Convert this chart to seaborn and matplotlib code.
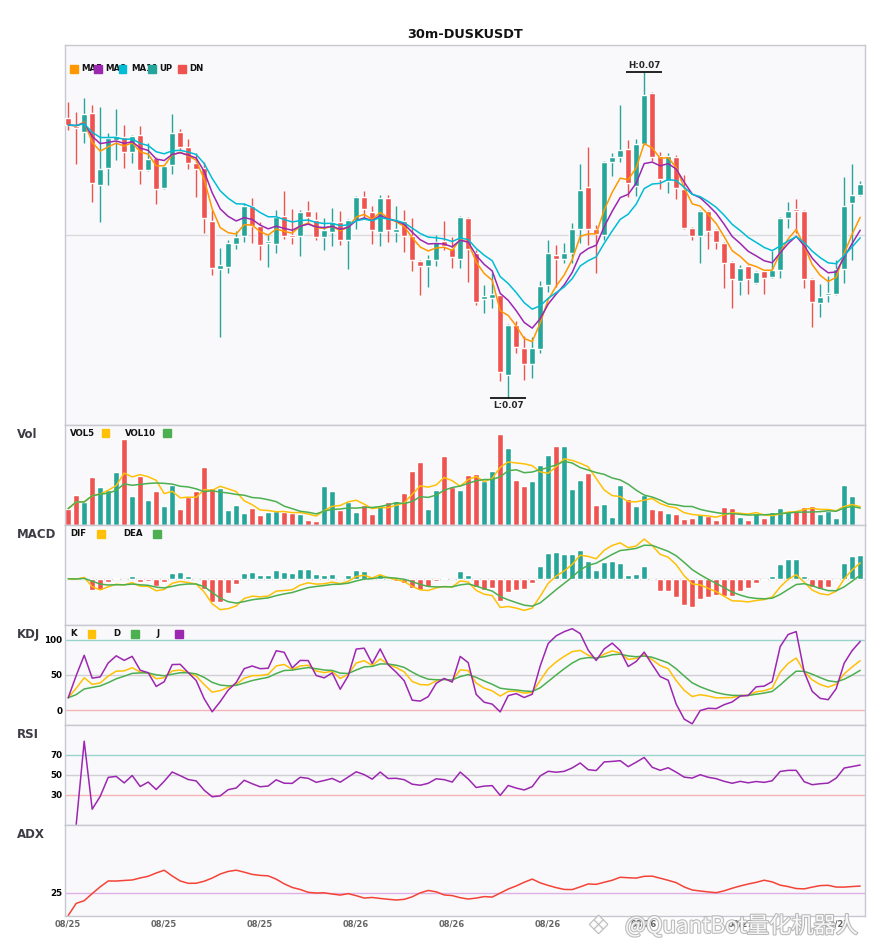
import numpy as np
import pandas as pd
import matplotlib
matplotlib.use("Agg")
import matplotlib.pyplot as plt
import matplotlib.patheffects as pe
from matplotlib.patches import Rectangle
from matplotlib.transforms import Bbox, TransformedBbox
import seaborn as sns

# 30m candles, prices in units of 1e-5 USDT
opens = [7280, 7272, 7266, 7285, 7213, 7230, 7258, 7261, 7246, 7263,
         7228, 7240, 7210, 7233, 7266, 7251, 7235, 7230, 7177, 7129,
         7131, 7154, 7162, 7192, 7172, 7155, 7154, 7182, 7162, 7162,
         7187, 7178, 7161, 7166, 7176, 7158, 7178, 7201, 7186, 7166,
         7200, 7166, 7177, 7162, 7137, 7132, 7138, 7157, 7150, 7139,
         7180, 7145, 7099, 7100, 7103, 7023, 7073, 7050, 7034, 7049,
         7113, 7143, 7139, 7145, 7169, 7211, 7169, 7163, 7236, 7241,
         7249, 7212, 7254, 7305, 7242, 7217, 7241, 7209, 7170, 7162,
         7187, 7168, 7155, 7136, 7117, 7132, 7115, 7127, 7121, 7128,
         7180, 7188, 7187, 7119, 7095, 7103, 7104, 7129, 7195, 7203]
highs = [7296, 7286, 7300, 7293, 7291, 7265, 7289, 7273, 7263, 7272,
         7255, 7241, 7233, 7284, 7269, 7259, 7245, 7236, 7188, 7150,
         7158, 7167, 7195, 7200, 7176, 7163, 7188, 7207, 7189, 7188,
         7197, 7186, 7180, 7190, 7187, 7179, 7202, 7207, 7192, 7203,
         7203, 7192, 7188, 7180, 7138, 7143, 7163, 7177, 7161, 7182,
         7181, 7148, 7113, 7125, 7104, 7074, 7077, 7062, 7061, 7117,
         7158, 7153, 7155, 7175, 7234, 7251, 7173, 7237, 7245, 7293,
         7258, 7259, 7326, 7306, 7246, 7245, 7243, 7223, 7171, 7188,
         7188, 7169, 7156, 7137, 7133, 7133, 7127, 7128, 7147, 7181,
         7196, 7199, 7188, 7120, 7114, 7122, 7138, 7221, 7234, 7217]
lows = [7268, 7234, 7255, 7196, 7176, 7213, 7238, 7230, 7235, 7214,
        7227, 7194, 7209, 7224, 7248, 7229, 7201, 7165, 7123, 7061,
        7125, 7149, 7156, 7155, 7138, 7131, 7145, 7159, 7154, 7142,
        7176, 7158, 7148, 7152, 7153, 7129, 7169, 7180, 7154, 7152,
        7156, 7156, 7146, 7127, 7103, 7111, 7132, 7148, 7130, 7130,
        7116, 7093, 7085, 7090, 7017, 7000, 7045, 7018, 7020, 7045,
        7106, 7111, 7135, 7135, 7155, 7153, 7125, 7158, 7222, 7236,
        7201, 7202, 7253, 7237, 7209, 7205, 7199, 7169, 7158, 7135,
        7149, 7149, 7110, 7090, 7103, 7104, 7114, 7104, 7120, 7120,
        7170, 7165, 7110, 7071, 7081, 7096, 7103, 7115, 7138, 7202]
closes = [7273, 7270, 7284, 7215, 7229, 7260, 7262, 7246, 7262, 7228,
          7239, 7209, 7232, 7265, 7251, 7235, 7229, 7180, 7130, 7133,
          7155, 7161, 7192, 7172, 7153, 7156, 7181, 7162, 7161, 7186,
          7181, 7161, 7168, 7176, 7158, 7178, 7201, 7189, 7168, 7200,
          7168, 7169, 7162, 7138, 7132, 7139, 7156, 7152, 7141, 7181,
          7149, 7096, 7102, 7104, 7026, 7073, 7051, 7034, 7050, 7112,
          7145, 7139, 7145, 7169, 7208, 7169, 7164, 7236, 7241, 7248,
          7215, 7254, 7303, 7241, 7219, 7242, 7210, 7170, 7162, 7187,
          7167, 7156, 7135, 7119, 7130, 7119, 7126, 7120, 7128, 7180,
          7187, 7187, 7119, 7096, 7101, 7104, 7129, 7192, 7203, 7214]
# volume in thousands
volumes = [48, 88, 68, 142, 112, 105, 157, 255, 85, 145,
           75, 102, 57, 120, 48, 84, 100, 172, 109, 109,
           45, 60, 34, 51, 30, 37, 42, 37, 35, 31,
           15, 12, 117, 100, 43, 69, 37, 58, 33, 60,
           67, 72, 94, 160, 187, 48, 105, 205, 112, 105,
           147, 150, 130, 159, 270, 228, 135, 117, 132, 177,
           207, 234, 234, 108, 135, 153, 60, 63, 24, 120,
           78, 57, 88, 48, 45, 36, 33, 18, 21, 33,
           26, 15, 54, 51, 24, 15, 36, 21, 39, 51,
           42, 42, 54, 57, 33, 42, 21, 120, 85, 1]
start_time = "2023-08-25 06:00"
symbol = "DUSKUSDT"
interval = "30m"
ma_spans = [5, 8, 13]
macd_fast, macd_slow, macd_signal = 6, 13, 5

UP, DN = "#26A69A", "#EF5350"
C_MA = ["#FF9800", "#9C27B0", "#00BCD4"]
YEL, GRN, PUR = "#FFC107", "#4CAF50", "#9C27B0"

o = pd.Series(opens) / 1e5
h = pd.Series(highs) / 1e5
l = pd.Series(lows) / 1e5
c = pd.Series(closes) / 1e5
v = pd.Series(volumes) * 1000.0
n = len(c)
idx = np.arange(n)
times = pd.date_range(start_time, periods=n, freq="30min")

# indicators
mas = [c.ewm(span=s, adjust=False).mean() for s in ma_spans]
vol5 = v.rolling(5, min_periods=1).mean()
vol10 = v.rolling(10, min_periods=1).mean()

dif = c.ewm(span=macd_fast, adjust=False).mean() - c.ewm(span=macd_slow, adjust=False).mean()
dea = dif.ewm(span=macd_signal, adjust=False).mean()
hist = 2 * (dif - dea)

low9 = l.rolling(9, min_periods=1).min()
high9 = h.rolling(9, min_periods=1).max()
rsv = (c - low9) / (high9 - low9) * 100
k = rsv.ewm(com=2, adjust=False).mean()
d = k.ewm(com=2, adjust=False).mean()
j = 3 * k - 2 * d

delta = c.diff()
gain = delta.clip(lower=0).ewm(com=13).mean()
loss = (-delta).clip(lower=0).ewm(com=13).mean()
rsi = 100 * gain / (gain + loss)

pc = c.shift(1)
tr = pd.concat([h - l, (h - pc).abs(), (l - pc).abs()], axis=1).max(axis=1)
upm = h.diff()
dnm = -l.diff()
pdm = pd.Series(np.where((upm > dnm) & (upm > 0), upm, 0.0))
ndm = pd.Series(np.where((dnm > upm) & (dnm > 0), dnm, 0.0))
atr = tr.ewm(span=14, adjust=False).mean()
pdi = 100 * pdm.ewm(span=14, adjust=False).mean() / atr
ndi = 100 * ndm.ewm(span=14, adjust=False).mean() / atr
dx = (100 * (pdi - ndi).abs() / (pdi + ndi)).fillna(0)
adx = dx.ewm(span=14, adjust=False).mean()

sns.set_theme(style="white")
plt.rcParams.update({
    "font.family": ["DejaVu Sans"],
    "axes.facecolor": "#F9F9FB",
    "axes.edgecolor": "#C8C8D2",
    "axes.linewidth": 1.0,
})

fig = plt.figure(figsize=(8.85, 9.5), dpi=100)
gs = fig.add_gridspec(6, 1, height_ratios=[380, 100, 100, 100, 100, 91],
                      left=65 / 885, right=865 / 885, top=1 - 45 / 950,
                      bottom=1 - 915.5 / 950, hspace=0)
ax0 = fig.add_subplot(gs[0])
axes = [ax0] + [fig.add_subplot(gs[i], sharex=ax0) for i in range(1, 6)]
ax_p, ax_v, ax_m, ax_k, ax_r, ax_a = axes
heights_px = [380, 100, 100, 100, 100, 91]

colors = np.where(c >= o, UP, DN)

# price panel
ax_p.vlines(idx, l, h, colors=colors, lw=1.0, zorder=2)
body = np.maximum((c - o).abs(), 1.5e-5)
ax_p.bar(idx, body, bottom=np.minimum(o, c), width=0.75, color=colors, zorder=3)
for ma, col in zip(mas, C_MA):
    sns.lineplot(x=idx, y=ma, ax=ax_p, color=col, lw=1.1, zorder=4)
lo, hi = l.min(), h.max()
pad = (hi - lo) * 0.083
ax_p.set_ylim(lo - pad, hi + pad)
ax_p.axhline((lo + hi) / 2, color="#DADADF", lw=1.0, zorder=1)

ih, il = int(h.idxmax()), int(l.idxmin())
ax_p.hlines(h[ih], ih - 2.25, ih + 2.25, color="black", lw=1.2, zorder=5)
ax_p.annotate(f"H:{h[ih]:.2f}", (ih, h[ih]), xytext=(0, 1.5), textcoords="offset points",
              ha="center", va="bottom", fontsize=6.3, fontweight="bold")
ax_p.hlines(l[il], il - 2.25, il + 2.25, color="black", lw=1.2, zorder=5)
ax_p.annotate(f"L:{l[il]:.2f}", (il, l[il]), xytext=(0, -2), textcoords="offset points",
              ha="center", va="top", fontsize=6.3, fontweight="bold")

# volume panel
ax_v.bar(idx, v, width=0.68, color=colors, zorder=2)
sns.lineplot(x=idx, y=vol5, ax=ax_v, color=YEL, lw=1.1, zorder=3)
sns.lineplot(x=idx, y=vol10, ax=ax_v, color=GRN, lw=1.1, zorder=3)
ax_v.set_ylim(0, v.max() * 1.105)

# macd panel
ax_m.axhline(0, color="#CFCFD4", lw=1.0, zorder=1)
ax_m.bar(idx, hist, width=0.68, color=np.where(hist >= 0, UP, DN), zorder=2)
sns.lineplot(x=idx, y=dif, ax=ax_m, color=YEL, lw=1.1, zorder=3)
sns.lineplot(x=idx, y=dea, ax=ax_m, color=GRN, lw=1.1, zorder=3)
mlo = min(dif.min(), dea.min(), hist.min())
mhi = max(dif.max(), dea.max(), hist.max())
ax_m.set_ylim(mlo - 0.2 * (mhi - mlo), mhi + 0.2 * (mhi - mlo))

# kdj panel
ax_k.axhline(100, color="#9AD3CB", lw=1.0, zorder=1)
ax_k.axhline(50, color="#CFCFD4", lw=1.0, zorder=1)
ax_k.axhline(0, color="#F6B5B5", lw=1.0, zorder=1)
sns.lineplot(x=idx, y=k, ax=ax_k, color=YEL, lw=1.1)
sns.lineplot(x=idx, y=d, ax=ax_k, color=GRN, lw=1.1)
sns.lineplot(x=idx, y=j, ax=ax_k, color=PUR, lw=1.1)
ax_k.set_ylim(-20, 121)
ax_k.set_yticks([0, 50, 100])

# rsi panel
ax_r.axhline(70, color="#9AD3CB", lw=1.0, zorder=1)
ax_r.axhline(50, color="#CFCFD4", lw=1.0, zorder=1)
ax_r.axhline(30, color="#F6B5B5", lw=1.0, zorder=1)
sns.lineplot(x=idx, y=rsi, ax=ax_r, color=PUR, lw=1.1)
ax_r.set_ylim(0, 100)
ax_r.set_yticks([30, 50, 70])

# adx panel
ax_a.axhline(25, color="#DDB0E6", lw=1.0, zorder=1)
sns.lineplot(x=idx, y=adx, ax=ax_a, color="#F44336", lw=1.1)
ax_a.set_ylim(0, 100)
ax_a.set_yticks([25])

for ax in axes:
    ax.set_xlim(-0.4, 99.6)
    ax.set_xlabel("")
    ax.set_ylabel("")
    ax.tick_params(length=0, pad=2)
    for lab in ax.get_yticklabels():
        lab.set_fontsize(6.3)
        lab.set_fontweight("bold")
        lab.set_color("black")
for ax in [ax_p, ax_v, ax_m]:
    ax.set_yticks([])
for ax in axes[:-1]:
    ax.tick_params(labelbottom=False)
ax_a.set_xticks(idx[::12])
ax_a.set_xticklabels(times[::12].strftime("%m/%d"), fontsize=6, fontweight="bold", color="#666666")
ax_a.tick_params(axis="x", pad=3)


def px_legend(ax, hpx, items, row_px):
    for label, color, tx, bx, clip_to in items:
        t = ax.text(tx / 800, 1 - row_px / hpx, label, transform=ax.transAxes, fontsize=6.2,
                    fontweight="bold", color="#111111", ha="left", va="center", zorder=8)
        if clip_to is not None:
            t.set_clip_on(True)
            t.set_clip_box(TransformedBbox(Bbox([[0, 0], [clip_to / 800, 1]]), ax.transAxes))
        ax.add_patch(Rectangle((bx / 800, 1 - (row_px + 3.8) / hpx), 7.6 / 800, 7.6 / hpx,
                               transform=ax.transAxes, color=color, zorder=9, clip_on=False))


ma_labels = [f"MA{s}" for s in ma_spans]
px_legend(ax_p, 380, [(ma_labels[0], C_MA[0], 16, 5, 36.6), (ma_labels[1], C_MA[1], 40, 29, 61),
                      (ma_labels[2], C_MA[2], 66.5, 53.5, 90.6), ("UP", UP, 94, 83, None),
                      ("DN", DN, 124, 113, None)], 24)
px_legend(ax_v, 100, [("VOL5", YEL, 5, 36.5, None), ("VOL10", GRN, 60, 98, None)], 8.5)
px_legend(ax_m, 100, [("DIF", YEL, 5, 32, None), ("DEA", GRN, 58, 88, None)], 9)
px_legend(ax_k, 100, [("K", YEL, 5, 22.5, None), ("D", GRN, 48, 66, None),
                      ("J", PUR, 92, 110, None)], 9.3)

for ax, name, hpx in zip(axes[1:], ["Vol", "MACD", "KDJ", "RSI", "ADX"], heights_px[1:]):
    ax.text(-48 / 800, 1 - 10 / hpx, name, transform=ax.transAxes, fontsize=8.5,
            fontweight="bold", color="#3C3C44", ha="left", va="center")

fig.text((65 + 865) / 2 / 885, 1 - 34 / 950, f"{interval}-{symbol}", ha="center", va="center",
         fontsize=9.3, fontweight="bold", color="#111111")

# watermark
halo = [pe.withStroke(linewidth=1.6, foreground="#B4B4B4")]
fig.text(588 / 885, 1 - 926 / 950, "\u2756", fontsize=17, color="white", ha="left",
         va="center", path_effects=halo, alpha=0.9)
fig.text(625 / 885, 1 - 926 / 950, "@QuantBot量化机器人", fontsize=16, color="white",
         ha="left", va="center", family=["Noto Sans CJK SC", "DejaVu Sans"],
         path_effects=halo, alpha=0.9)

fig.savefig("out.png", dpi=100, facecolor="white")
